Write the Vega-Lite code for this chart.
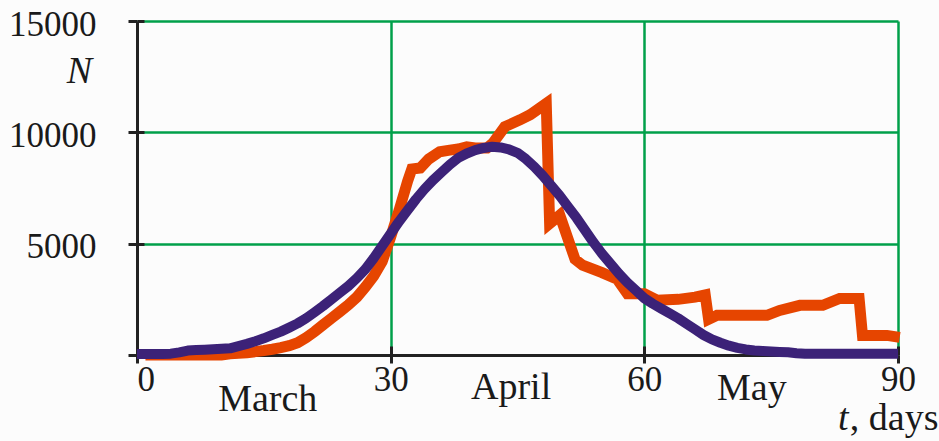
{
  "$schema": "https://vega.github.io/schema/vega-lite/v6.json",
  "width": 761,
  "height": 334,
  "autosize": "none",
  "padding": {"left": 137, "top": 21, "right": 41, "bottom": 86},
  "background": "#fcfcfc",
  "config": {"view": {"stroke": null}, "font": "Liberation Serif"},
  "datasets": {
    "orange": [
      {"t": 1, "N": 0}, {"t": 5, "N": 0}, {"t": 10, "N": 0}, {"t": 11, "N": 50}, {"t": 12, "N": 80},
      {"t": 13, "N": 100}, {"t": 14, "N": 150}, {"t": 15, "N": 200}, {"t": 16, "N": 260}, {"t": 17, "N": 330},
      {"t": 18, "N": 420}, {"t": 19, "N": 550}, {"t": 20, "N": 780}, {"t": 21, "N": 1050}, {"t": 22, "N": 1350},
      {"t": 23, "N": 1650}, {"t": 24, "N": 1950}, {"t": 25, "N": 2250}, {"t": 26, "N": 2600}, {"t": 27, "N": 3050},
      {"t": 28, "N": 3550}, {"t": 29, "N": 4200}, {"t": 30, "N": 5300}, {"t": 31, "N": 6500}, {"t": 32, "N": 7800},
      {"t": 32.5, "N": 8350}, {"t": 33.5, "N": 8400}, {"t": 34.5, "N": 8800}, {"t": 35.8, "N": 9130}, {"t": 37, "N": 9200},
      {"t": 38, "N": 9250}, {"t": 39, "N": 9350}, {"t": 40, "N": 9300}, {"t": 41.4, "N": 9300}, {"t": 42.1, "N": 9520},
      {"t": 43.5, "N": 10250}, {"t": 45.3, "N": 10560}, {"t": 46.5, "N": 10790}, {"t": 48.4, "N": 11300}, {"t": 48.8, "N": 5900},
      {"t": 50, "N": 6280}, {"t": 51.8, "N": 4300}, {"t": 52.7, "N": 4030}, {"t": 55, "N": 3700}, {"t": 56.8, "N": 3400},
      {"t": 58, "N": 2750}, {"t": 60, "N": 2750}, {"t": 61.5, "N": 2460}, {"t": 64, "N": 2500}, {"t": 66, "N": 2600},
      {"t": 67.2, "N": 2700}, {"t": 67.6, "N": 1600}, {"t": 68.6, "N": 1780}, {"t": 74.5, "N": 1780}, {"t": 76, "N": 2000},
      {"t": 78.4, "N": 2230}, {"t": 81.1, "N": 2230}, {"t": 83.1, "N": 2540}, {"t": 85.4, "N": 2540}, {"t": 85.8, "N": 880},
      {"t": 88.7, "N": 880}, {"t": 90.2, "N": 790}
    ],
    "purple": [
      {"t": 0, "N": 50}, {"t": 1, "N": 50}, {"t": 2, "N": 50}, {"t": 3, "N": 50}, {"t": 4, "N": 60},
      {"t": 5, "N": 120}, {"t": 6, "N": 200}, {"t": 7, "N": 220}, {"t": 8, "N": 240}, {"t": 9, "N": 260},
      {"t": 10, "N": 280}, {"t": 11, "N": 300}, {"t": 12, "N": 400}, {"t": 13, "N": 500}, {"t": 14, "N": 620},
      {"t": 15, "N": 750}, {"t": 16, "N": 900}, {"t": 17, "N": 1050}, {"t": 18, "N": 1230}, {"t": 19, "N": 1420},
      {"t": 20, "N": 1650}, {"t": 21, "N": 1920}, {"t": 22, "N": 2200}, {"t": 23, "N": 2500}, {"t": 24, "N": 2800},
      {"t": 25, "N": 3100}, {"t": 26, "N": 3450}, {"t": 27, "N": 3850}, {"t": 28, "N": 4350}, {"t": 29, "N": 4900},
      {"t": 30, "N": 5450}, {"t": 31, "N": 6000}, {"t": 32, "N": 6500}, {"t": 33, "N": 7000}, {"t": 34, "N": 7450},
      {"t": 35, "N": 7850}, {"t": 36, "N": 8200}, {"t": 37, "N": 8550}, {"t": 38, "N": 8850}, {"t": 39, "N": 9050},
      {"t": 40, "N": 9200}, {"t": 41, "N": 9300}, {"t": 42, "N": 9350}, {"t": 43, "N": 9320}, {"t": 44, "N": 9230},
      {"t": 45, "N": 9080}, {"t": 46, "N": 8800}, {"t": 47, "N": 8450}, {"t": 48, "N": 8050}, {"t": 49, "N": 7600},
      {"t": 50, "N": 7150}, {"t": 51, "N": 6650}, {"t": 52, "N": 6150}, {"t": 53, "N": 5600}, {"t": 54, "N": 5050},
      {"t": 55, "N": 4550}, {"t": 56, "N": 4100}, {"t": 57, "N": 3650}, {"t": 58, "N": 3250}, {"t": 59, "N": 2900},
      {"t": 60, "N": 2550}, {"t": 61, "N": 2300}, {"t": 62, "N": 2080}, {"t": 63, "N": 1870}, {"t": 64, "N": 1650},
      {"t": 65, "N": 1400}, {"t": 66, "N": 1150}, {"t": 67, "N": 900}, {"t": 68, "N": 700}, {"t": 69, "N": 550},
      {"t": 70, "N": 420}, {"t": 71, "N": 320}, {"t": 72, "N": 250}, {"t": 73, "N": 200}, {"t": 74, "N": 180},
      {"t": 75, "N": 160}, {"t": 76, "N": 140}, {"t": 77, "N": 120}, {"t": 78, "N": 80}, {"t": 79, "N": 60},
      {"t": 80, "N": 60}, {"t": 81, "N": 60}, {"t": 82, "N": 60}, {"t": 83, "N": 60}, {"t": 84, "N": 60},
      {"t": 85, "N": 60}, {"t": 86, "N": 60}, {"t": 87, "N": 60}, {"t": 88, "N": 60}, {"t": 89, "N": 60},
      {"t": 90, "N": 60}
    ],
    "labels": [
      {"label": "March", "t": 9.6, "N": -2517},
      {"label": "April", "t": 39.5, "N": -1978},
      {"label": "May", "t": 68.6, "N": -2023},
      {"label": ", days", "t": 84.3, "N": -3371}
    ],
    "italics": [
      {"label": "t", "t": 82.9, "N": -3371},
      {"label": "N", "t": -8.3, "N": 12226}
    ]
  },
  "resolve": {"axis": {"x": "independent", "y": "independent"}},
  "layer": [
    {
      "data": {"name": "orange"},
      "mark": {"type": "line", "color": "#e64500", "strokeWidth": 11, "strokeJoin": "miter", "clip": false},
      "encoding": {
        "x": {"field": "t", "type": "quantitative", "scale": {"domain": [0, 90], "nice": false, "zero": false},
          "axis": {"orient": "bottom", "values": [30, 60, 90], "grid": true, "gridColor": "#00a04a", "gridWidth": 2.5, "gridOpacity": 1,
            "domain": false, "ticks": false, "labels": false, "title": null}},
        "y": {"field": "N", "type": "quantitative", "scale": {"domain": [0, 15000], "nice": false},
          "axis": {"orient": "left", "values": [5000, 10000, 15000], "grid": true, "gridColor": "#00a04a", "gridWidth": 2.5, "gridOpacity": 1,
            "domain": false, "ticks": false, "labels": false, "title": null}}
      }
    },
    {
      "data": {"name": "purple"},
      "mark": {"type": "line", "color": "#3c2278", "strokeWidth": 10, "strokeJoin": "round"},
      "encoding": {
        "x": {"field": "t", "type": "quantitative",
          "axis": {"orient": "bottom", "values": [30, 60, 90], "grid": false, "domain": false, "labels": false, "title": null,
            "ticks": true, "tickSize": -9, "tickWidth": 3, "tickColor": "#222222"}},
        "y": {"field": "N", "type": "quantitative",
          "axis": {"orient": "left", "values": [0, 5000, 10000, 15000], "grid": false, "domain": false, "labels": false, "title": null,
            "ticks": true, "tickSize": -7, "tickWidth": 3, "tickColor": "#222222"}}
      }
    },
    {
      "data": {"name": "labels"},
      "mark": {"type": "text", "align": "left", "baseline": "alphabetic", "fontSize": 38, "font": "Liberation Serif", "color": "#1a1a1a"},
      "encoding": {
        "x": {"field": "t", "type": "quantitative",
          "axis": {"orient": "bottom", "values": [0, 30, 60, 90], "grid": false, "domain": true, "domainColor": "#222222", "domainWidth": 3,
            "ticks": true, "tickSize": 8, "tickWidth": 3, "tickColor": "#222222", "labelPadding": -1,
            "labelFont": "Liberation Serif", "labelFontSize": 35, "labelColor": "#1a1a1a", "labelBaseline": "top",
            "labelAlign": {"expr": "datum.value === 0 ? 'left' : 'center'"}, "title": null}},
        "y": {"field": "N", "type": "quantitative",
          "axis": {"orient": "left", "values": [0, 5000, 10000, 15000], "grid": false, "domain": true, "domainColor": "#222222", "domainWidth": 3,
            "ticks": true, "tickSize": 9, "tickWidth": 3, "tickColor": "#222222", "labelPadding": 32, "labelOffset": 3,
            "labelFont": "Liberation Serif", "labelFontSize": 35, "labelColor": "#1a1a1a", "labelBaseline": "middle",
            "labelExpr": "datum.value === 0 ? '' : datum.label", "format": "d", "title": null}},
        "text": {"field": "label"}
      }
    },
    {
      "data": {"name": "italics"},
      "mark": {"type": "text", "align": "left", "baseline": "alphabetic", "fontSize": 38, "fontStyle": "italic", "font": "Liberation Serif", "color": "#1a1a1a"},
      "encoding": {
        "x": {"field": "t", "type": "quantitative", "axis": null},
        "y": {"field": "N", "type": "quantitative", "axis": null},
        "text": {"field": "label"}
      }
    }
  ]
}
